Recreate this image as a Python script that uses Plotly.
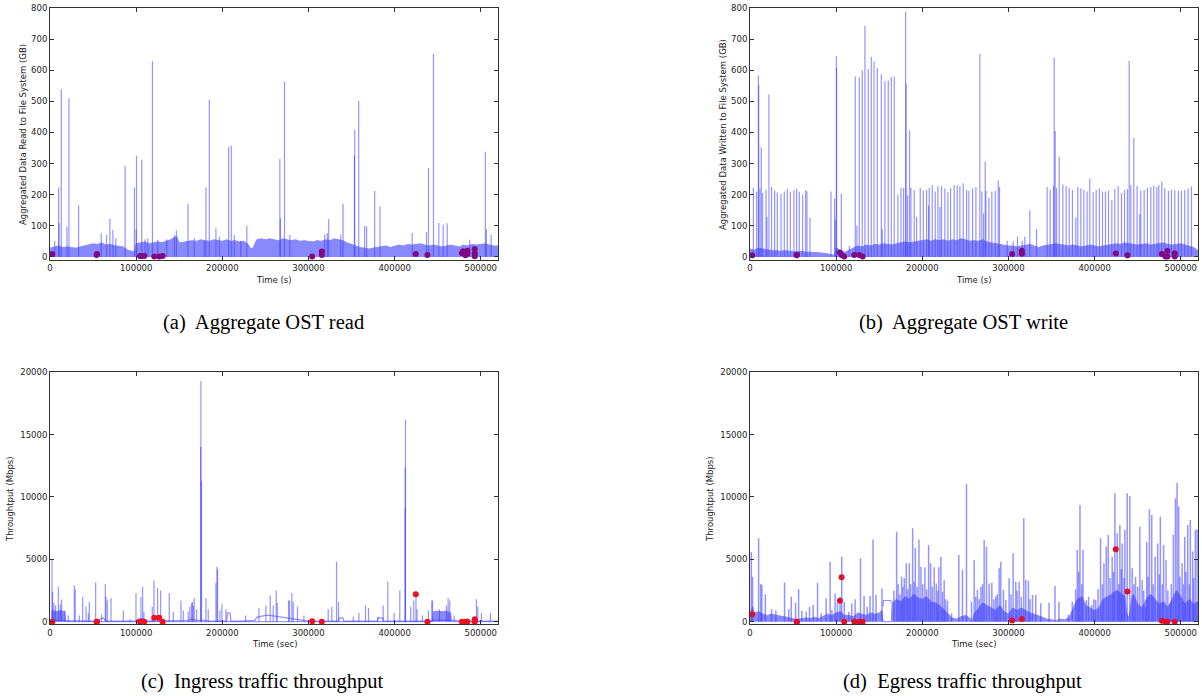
import plotly.graph_objects as go

# ---------------- data (times in kiloseconds, values in axis units) ----------------
X_TICKS = [0, 100000, 200000, 300000, 400000, 500000]
X_TICK_LABELS = ["0", "100000", "200000", "300000", "400000", "500000"]
GB_TICKS = [0, 100, 200, 300, 400, 500, 600, 700, 800]
MBPS_TICKS = [0, 5000, 10000, 15000, 20000]

# (a) aggregate OST read
A_BAND_T = [0, 5, 10, 15, 20, 25, 30, 35, 40, 45, 50, 55, 60, 65, 70, 75, 80, 85, 90, 95, 98, 100, 105, 110, 115,
            120, 125, 130, 135, 140, 144, 147, 150, 155, 160, 165, 170, 175, 180, 185, 190, 195, 200, 205, 210, 215,
            220, 225, 230, 233, 236, 240, 245, 250, 255, 260, 265, 270, 275, 280, 285, 290, 295, 300, 305, 310, 315,
            320, 325, 330, 335, 340, 345, 350, 355, 360, 365, 370, 375, 380, 385, 390, 395, 400, 405, 410, 415, 420,
            425, 430, 435, 440, 445, 450, 455, 460, 465, 470, 475, 480, 485, 490, 495, 500, 505, 510, 515, 520]
A_BAND_TOP = [28, 32, 35, 30, 32, 30, 28, 32, 35, 38, 42, 40, 45, 38, 40, 36, 35, 32, 22, 18, 15, 42, 45, 48, 42,
              45, 48, 46, 50, 55, 62, 65, 45, 48, 50, 52, 50, 55, 52, 50, 55, 52, 50, 55, 50, 52,
              48, 50, 40, 25, 30, 55, 58, 55, 58, 55, 52, 58, 55, 52, 55, 50, 52, 50, 48, 52, 50,
              55, 52, 58, 55, 52, 45, 40, 35, 30, 28, 25, 28, 30, 32, 35, 30, 35, 38, 35, 40, 38,
              40, 42, 38, 35, 38, 35, 32, 35, 38, 35, 32, 38, 35, 40, 38, 40, 42, 38, 35, 35]
A_SPIKE_T = [5.4, 10.0, 10.6, 13.1, 19.7, 22.0, 33.2, 59.4, 65.6, 69.5, 73.0, 76.4, 87.2, 98.0, 100.0, 100.4,
             106.5, 110.4, 113.5, 118.9, 125.0, 135.5, 144.4, 146.7, 160.2, 167.5, 179.0, 181.0, 184.9, 192.6,
             196.5, 207.3, 210.4, 213.8, 221.5, 228.5, 266.8, 267.4, 272.2, 278.4, 318.9, 322.0, 323.5, 337.5,
             340.1, 353.3, 353.7, 358.3, 365.2, 367.5, 376.8, 383.0, 420.4, 437.0, 439.3, 445.1, 451.3, 456.3,
             461.0, 487.2, 505.4, 506.5, 512.0]
A_SPIKE_V = [51, 223, 108, 539, 98, 509, 166, 76, 71, 122, 87, 60, 292, 223, 88, 325,
             312, 57, 60, 629, 55, 57, 70, 85, 170, 60, 52, 223, 505, 92,
             65, 353, 357, 70, 52, 99, 315, 124, 564, 70, 73, 76, 122, 70,
             170, 326, 409, 501, 100, 98, 212, 162, 77, 80, 286, 653, 109, 103,
             108, 55, 338, 90, 70]
A_DOT_T = [2.7, 54.1, 54.6, 104.4, 106.3, 109.4, 121.0, 126.8, 130.7, 304.3, 315.5, 315.5, 424.6, 438.1,
           478.0, 479.5, 482.2, 484.5, 484.5, 493.0, 493.0, 493.0]
A_DOT_V = [9, 6, 9, 3, 3, 3, 1, 1, 3, 1, 17, 6, 9, 6, 12, 18, 5, 20, 10, 25, 12, 2]

# (b) aggregate OST write
B_BAND_T = [0, 5, 10, 15, 20, 25, 30, 35, 40, 45, 50, 55, 60, 65, 70, 75, 80, 85, 90, 95, 98, 100, 105, 110, 115,
            120, 125, 130, 135, 140, 145, 150, 155, 160, 165, 170, 175, 180, 185, 190, 195, 200, 205, 210, 215,
            220, 225, 230, 235, 240, 245, 250, 255, 260, 265, 270, 275, 280, 285, 290, 295, 300, 305, 310, 315,
            320, 325, 330, 335, 340, 345, 350, 355, 360, 365, 370, 375, 380, 385, 390, 395, 400, 405, 410, 415,
            420, 425, 430, 435, 440, 445, 450, 455, 460, 465, 470, 475, 480, 485, 490, 495, 500, 505, 510, 515, 520]
B_BAND_TOP = [25, 22, 28, 25, 22, 20, 20, 18, 20, 18, 18, 16, 18, 15, 15, 14, 15, 12, 10, 8, 5, 30, 20, 15, 22,
              30, 35, 32, 38, 35, 40, 38, 42, 40, 38, 42, 45, 48, 45, 48, 50, 52, 55, 50, 55,
              52, 55, 50, 55, 52, 58, 55, 50, 52, 50, 55, 48, 45, 42, 40, 38, 35, 35, 32, 35,
              38, 40, 35, 30, 35, 38, 40, 42, 40, 38, 35, 38, 35, 32, 35, 38, 35, 32, 35, 38,
              40, 42, 40, 45, 42, 40, 38, 40, 42, 38, 40, 42, 45, 40, 38, 40, 42, 38, 35, 30, 20]
B_SPIKE_T = [3.9, 7.7, 9.7, 10.1, 11.6, 13.1, 14.7, 18.6, 19.7, 22.0, 25.1, 28.6, 31.7, 36.0, 39.8, 43.3, 46.8,
             51.0, 54.1, 57.2, 61.1, 64.6, 66.1, 69.6, 94.0, 98.2, 99.0, 100.2, 100.5, 106.0, 115.2, 122.2,
             124.1, 126.8, 130.3, 133.4, 137.3, 140.8, 143.9, 147.7, 152.4, 153.5, 156.6, 160.5, 164.0, 167.4,
             171.7, 175.2, 178.3, 180.6, 181.2, 182.9, 185.2, 186.8, 190.6, 193.4, 197.6, 201.1, 205.0, 207.3,
             208.0, 211.5, 215.0, 218.1, 220.4, 222.3, 226.2, 229.7, 232.8, 237.0, 240.5, 243.6, 247.5, 251.4,
             254.1, 258.3, 262.2, 266.8, 269.1, 271.1, 273.0, 273.8, 277.3, 280.7, 284.6, 288.1, 289.6, 298.5,
             305.5, 310.5, 315.9, 319.0, 324.8, 332.6, 344.9, 348.4, 352.3, 353.1, 354.2, 355.8, 358.9, 363.1,
             367.0, 370.5, 374.3, 378.2, 380.5, 384.0, 387.5, 391.3, 394.4, 398.3, 401.8, 405.6, 409.1, 412.6,
             416.1, 420.0, 423.4, 427.3, 431.2, 434.7, 438.1, 440.1, 442.0, 445.5, 449.3, 452.4, 453.6, 457.5,
             461.3, 465.2, 468.7, 472.2, 474.5, 478.0, 481.4, 485.7, 489.2, 493.0, 497.3, 500.8, 504.6, 508.5,
             512.4]
B_SPIKE_V = [222, 210, 583, 553, 220, 352, 205, 215, 128, 522, 225, 213, 207, 203, 210, 218, 209,
             214, 219, 209, 200, 215, 210, 127, 210, 188, 120, 645, 607, 204, 35, 580,
             100, 577, 600, 742, 604, 643, 628, 607, 587, 90, 565, 567, 578, 580,
             200, 222, 222, 788, 557, 198, 407, 222, 215, 128, 222, 213, 215, 165,
             222, 230, 210, 228, 160, 227, 220, 208, 221, 230, 230, 227, 237, 215,
             212, 220, 225, 652, 210, 140, 307, 212, 190, 210, 212, 246, 225, 52,
             50, 65, 52, 65, 150, 90, 225, 216, 228, 640, 405, 222, 322, 233,
             228, 222, 215, 127, 225, 220, 215, 210, 252, 208, 215, 220, 210, 210,
             213, 182, 218, 228, 205, 215, 218, 630, 230, 382, 228, 138, 213, 215,
             222, 225, 228, 225, 230, 242, 220, 212, 215, 213, 212, 213, 215, 220,
             226]
B_DOT_T = [2.7, 54.1, 54.6, 104.4, 106.3, 109.4, 121.0, 126.8, 130.7, 304.3, 315.5, 315.5, 424.6, 438.1,
           478.0, 482.2, 484.5, 484.5, 493.0, 493.0]
B_DOT_V = [5, 5, 7, 14, 6, 1, 6, 6, 1, 9, 20, 10, 11, 5, 9, 1, 19, 1, 12, 1]

# (c) ingress traffic throughput
C_BASE_T = [0, 20, 22, 50, 55, 60, 62, 65, 100, 102, 108, 110, 130, 140, 160, 165, 170, 180, 185, 205, 206, 209,
            210, 220, 230, 238, 240, 245, 250, 255, 260, 265, 270, 275, 280, 285, 290, 295, 300, 335, 336, 340,
            341, 380, 381, 386, 387, 440, 442, 470, 480, 520]
C_BASE_V = [100, 100, 50, 50, 150, 250, 300, 50, 50, 200, 250, 50, 50, 100, 100, 200, 100, 100, 50, 50, 700, 700,
            50, 50, 100, 100, 350, 450, 500, 500, 450, 400, 350, 300, 250, 200, 150, 100, 50, 50, 300, 300,
            50, 50, 300, 300, 50, 50, 100, 100, 50, 50]
C_BAND_T = [0, 2, 2.5, 5, 8, 12, 15, 17, 18, 444, 445, 450, 455, 460, 465, 466, 520]
C_BAND_TOP = [0, 0, 900, 850, 800, 900, 850, 800, 0, 0, 800, 850, 800, 850, 700, 0, 0]
C_SPIKE_T = [2.3, 3.0, 4.5, 6.5, 9.7, 12.0, 13.5, 17.4, 21.2, 28.2, 29.3, 34.0, 37.9, 41.8, 44.5, 45.6, 53.0,
             59.9, 64.2, 65.0, 66.5, 70.8, 85.1, 92.8, 99.8, 105.6, 107.5, 109.0, 118.7, 120.7, 124.9, 128.4,
             138.4, 143.1, 152.0, 154.7, 160.5, 162.4, 164.3, 165.4, 166.3, 167.4, 170.1, 174.8, 175.2, 175.9,
             181.0, 183.7, 192.6, 193.7, 194.5, 197.2, 199.5, 204.2, 227.0, 242.5, 250.6, 255.6, 259.1, 262.6,
             263.8, 276.9, 278.0, 280.7, 282.3, 287.3, 294.7, 322.9, 327.1, 332.6, 334.9, 351.9, 358.5, 366.2,
             369.7, 380.5, 386.7, 392.1, 399.5, 406.0, 412.2, 412.4, 412.6, 418.7, 422.2, 424.8, 426.0, 432.3,
             439.3, 443.2, 444.0, 452.0, 460.2, 462.1, 464.0, 469.1, 484.5, 491.0, 495.0, 496.5, 500.8, 511.2]
C_SPIKE_V = [5000, 2400, 1500, 1300, 2800, 1400, 1800, 900, 500, 2900, 2600, 500, 2000, 1200, 700, 1600, 3150,
             600, 3000, 2000, 1700, 1900, 900, 200, 2300, 2000, 2800, 800, 1200, 3300, 2700, 2500,
             2300, 800, 1700, 900, 800, 1200, 1500, 1600, 1300, 1900, 1000, 14000, 19300, 11300,
             1900, 1000, 3100, 4400, 4200, 900, 1400, 1000, 500, 1100, 1300, 2100, 1300, 2500,
             1500, 1700, 1700, 2300, 1600, 1200, 500, 1000, 1200, 4800, 1600, 400, 700, 1300,
             1100, 400, 1300, 3200, 700, 2500, 9100, 12300, 16200, 1200, 1700, 2000, 1000, 500,
             900, 1700, 1700, 1000, 1300, 1900, 1700, 500, 300, 300, 1800, 1200, 700, 700]
C_DOT_T = [2.7, 54.1, 54.6, 104.4, 106.3, 109.4, 121.0, 126.8, 130.7, 304.3, 315.5, 424.6, 438.1,
           478.0, 482.2, 484.5, 493.0, 493.0]
C_DOT_V = [0, 0, 0, 0, 0, 0, 320, 320, 0, 30, 0, 2190, 0, 0, 0, 0, 190, 0]

# (d) egress traffic throughput
D_BAND_T = [0, 3, 5, 10, 15, 20, 25, 30, 35, 40, 45, 50, 55, 60, 65, 70, 75, 80, 85, 90, 95, 100, 105, 110, 115,
            120, 125, 130, 135, 140, 145, 150, 153, 154.5, 164, 165, 170, 175, 180, 185, 190, 195, 200, 205, 210,
            215, 220, 225, 230, 235, 240, 245, 250, 255, 258, 260, 265, 270, 275, 280, 285, 290, 295, 300, 305,
            310, 315, 320, 325, 330, 335, 340, 345, 350, 355, 360, 365, 370, 375, 380, 385, 390, 395, 400, 405,
            410, 415, 420, 425, 430, 435, 437, 440, 443, 445, 450, 455, 460, 465, 470, 475, 480, 485, 490, 495,
            500, 505, 510, 515, 520]
D_BAND_TOP = [500, 1200, 700, 800, 600, 500, 600, 500, 450, 400, 300, 200, 150, 250, 300, 250, 350, 250, 400,
              600, 500, 700, 800, 500, 500,
              400, 700, 600, 500, 700, 600, 700, 900, 0, 0, 1500, 1800, 1600, 2000, 1800, 2200, 1900, 1800,
              2000, 1600,
              1500, 1300, 1000, 600, 300, 200, 400, 500, 300, 50, 600, 1100, 1500, 1300, 1100, 900, 1300, 800,
              600, 1100,
              900, 1100, 900, 700, 600, 450, 350, 200, 150, 80, 200, 150, 300, 1100, 1800, 2000, 1300, 1100,
              900, 1100,
              1800, 2000, 2200, 2500, 2300, 2000, 700, 300, 1800, 2200, 1400, 1100, 1800, 2200, 1800, 1400,
              1600, 1100, 1800, 2500,
              2000, 1400, 1800, 1400, 1600]
D_STEP_T = [154.5, 155, 163.5, 164]
D_STEP_V = [1200, 1700, 1700, 1500]
D_SPIKE_T = [1.5, 3.0, 10.0, 12.4, 13.8, 17.8, 25.0, 30.0, 40.1, 45.0, 47.9, 52.9, 56.4, 60.2, 65.2, 69.1, 73.3,
             78.4, 82.6, 88.4, 93.0, 95.0, 98.8, 101.5, 104.5, 106.5, 109.5, 114.5, 118.1, 122.0, 128.2, 132.4,
             136.0, 139.3, 142.8, 146.3, 153.2, 170.2, 176.0, 179.1, 181.4, 184.9, 188.8, 191.9, 196.1, 198.4,
             203.0, 207.3, 209.6, 213.8, 216.2, 219.2, 221.6, 225.4, 229.3, 234.0, 242.4, 246.6, 251.3, 257.1,
             260.2, 264.0, 268.0, 271.8, 274.5, 277.6, 280.7, 285.3, 289.2, 291.1, 294.2, 296.9, 300.8, 305.4,
             308.5, 312.4, 317.8, 320.1, 323.2, 327.9, 331.7, 337.5, 347.1, 354.0, 358.6, 369.4, 374.1, 379.9,
             383.0, 386.5, 390.4, 396.6, 401.2, 406.9, 410.8, 413.5, 415.8, 420.4, 423.5, 426.2, 429.3, 432.0,
             435.1, 437.8, 440.9, 443.6, 447.5, 452.5, 455.2, 459.1, 460.5, 463.6, 466.3, 470.2, 473.2, 476.3,
             480.1, 482.9, 487.5, 491.4, 493.8, 495.7, 497.6, 501.5, 504.6, 508.1, 511.1, 513.8, 516.9, 519.0]
D_SPIKE_V = [5560, 3600, 6690, 3020, 2940, 2190, 1000, 900, 3150, 1000, 2000, 1520, 2620, 880, 800, 1200, 1340,
             3130, 670, 1870, 4810, 940, 2270, 1500, 2000, 5200, 1600, 800, 1470, 1800, 5080, 2060,
             1200, 2060, 6600, 2140, 2670, 7220, 3610, 3480, 4680, 4680, 7490, 5880, 6600, 4410,
             4360, 6150, 4680, 4360, 3070, 4360, 5210, 3340, 1680, 670, 5350, 4140, 11040, 1600,
             4950, 2540, 2810, 6550, 6020, 3070, 3130, 2000, 4280, 4810, 2540, 1740, 3480, 5480,
             3210, 3210, 8290, 3340, 3290, 2140, 2140, 1470, 1520, 2860, 1600, 530, 1600, 5750,
             9360, 5750, 1740, 1340, 1740, 6690, 4680, 6020, 6950, 5210, 10300, 7090, 7750, 6280,
             7350, 10300, 10080, 4280, 3610, 7620, 3340, 1200, 6420, 9010, 8560, 5210, 6280, 8420,
             6150, 4950, 1470, 7000, 9890, 11150, 9230, 4680, 6820, 7750, 8160, 5620, 7350, 7400]
# secondary (medium-height) egress bursts
D_MINOR_T = [167.0, 172.0, 174.0, 177.5, 183.0, 186.5, 190.5, 194.0, 200.5, 205.0, 211.5, 218.0, 223.5, 227.0,
             262.0, 266.0, 270.0, 283.0, 287.0, 303.0, 310.0, 315.0, 325.0, 378.0, 381.5, 385.0, 393.0, 399.0,
             404.0, 409.0, 418.0, 422.0, 428.0, 431.0, 434.0, 445.5, 450.0, 457.0, 462.0, 468.0, 475.0, 478.5,
             485.0, 489.0, 499.0, 503.0, 506.0, 510.0, 515.0]
D_MINOR_V = [2500, 3000, 2200, 2800, 2600, 3000, 3200, 2800, 3000, 2600, 2800, 2500, 2400, 1800,
             2000, 1800, 3000, 1800, 2200, 2200, 2500, 2000, 1800, 2600, 4000, 3000, 2000, 1800,
             2600, 3000, 3500, 4000, 3000, 4200, 3500, 3000, 2800, 2500, 3600, 3000, 3800, 3000,
             2500, 3000, 3600, 3000, 4000, 3000, 3500]
D_DOT_T = [2.7, 54.1, 54.6, 104.4, 106.3, 109.4, 121.0, 126.8, 130.7, 304.3, 315.5, 424.6, 438.1,
           478.0, 482.2, 484.5, 493.0]
D_DOT_V = [590, 0, 0, 1680, 3560, 0, 0, 0, 0, 100, 210, 5800, 2430, 80, 0, 0, 0]

# ---------------- styling ----------------
BAND = "#8888ff"
SPIKE = "rgba(60,60,255,0.55)"
TICK_FONT = dict(family="DejaVu Sans", size=8.5, color="#222222")
W, H = 1202, 696


def ks(ts):
    return [t * 1000 for t in ts]


def spike_xy(ts, vs):
    xs, ys = [], []
    for t, v in zip(ks(ts), vs):
        xs += [t, t, None]
        ys += [0, v, None]
    return xs, ys


fig = go.Figure()

panels = [
    ("a", "x", "y", (A_BAND_T, A_BAND_TOP), (A_SPIKE_T, A_SPIKE_V), (A_DOT_T, A_DOT_V), "#800a80", 1.2),
    ("b", "x2", "y2", (B_BAND_T, B_BAND_TOP), (B_SPIKE_T, B_SPIKE_V), (B_DOT_T, B_DOT_V), "#800a80", 1.2),
    ("c", "x3", "y3", (C_BAND_T, C_BAND_TOP), (C_SPIKE_T, C_SPIKE_V), (C_DOT_T, C_DOT_V), "#f01020", 1.2),
    ("d", "x4", "y4", (D_BAND_T, D_BAND_TOP), (D_SPIKE_T + D_MINOR_T, D_SPIKE_V + D_MINOR_V),
     (D_DOT_T, D_DOT_V), "#e0102a", 1.5),
]

for name, xa, ya, band, spk, dots, dcol, sw in panels:
    fig.add_trace(go.Scatter(x=ks(band[0]), y=band[1], mode="lines", fill="tozeroy",
                             fillcolor=BAND, line=dict(color=BAND, width=1),
                             xaxis=xa, yaxis=ya, hoverinfo="skip"))
    if name == "c":
        fig.add_trace(go.Scatter(x=ks(C_BASE_T), y=C_BASE_V, mode="lines",
                                 line=dict(color=SPIKE, width=1.3), xaxis=xa, yaxis=ya))
    if name == "d":
        fig.add_trace(go.Scatter(x=ks(D_STEP_T), y=D_STEP_V, mode="lines",
                                 line=dict(color=SPIKE, width=1.2), xaxis=xa, yaxis=ya))
    sx, sy = spike_xy(*spk)
    fig.add_trace(go.Scatter(x=sx, y=sy, mode="lines", line=dict(color=SPIKE, width=sw),
                             xaxis=xa, yaxis=ya, connectgaps=False))
    fig.add_trace(go.Scatter(x=ks(dots[0]), y=dots[1], mode="markers",
                             marker=dict(color=dcol, size=6, line=dict(width=0)),
                             xaxis=xa, yaxis=ya))

LEFT = [50 / W, 498 / W]
RIGHT = [750 / W, 1198 / W]
TOP = [1 - 260 / H, 1 - 8 / H]
BOT = [1 - 624.3 / H, 1 - 372.3 / H]

axis_common = dict(showgrid=False, zeroline=False, showline=True, linecolor="#333333", linewidth=1,
                   mirror="ticks", ticks="inside", ticklen=4, tickcolor="#333333", tickfont=TICK_FONT,
                   automargin=False)

layout_axes = {}
for i, (dx, dy, yr, yt) in enumerate([(LEFT, TOP, [-10, 800], GB_TICKS),
                                       (RIGHT, TOP, [-10, 800], GB_TICKS),
                                       (LEFT, BOT, [-210, 20000], MBPS_TICKS),
                                       (RIGHT, BOT, [-210, 20000], MBPS_TICKS)]):
    sfx = "" if i == 0 else str(i + 1)
    layout_axes["xaxis" + sfx] = dict(domain=dx, range=[0, 520000], anchor="y" + sfx,
                                      tickvals=X_TICKS, ticktext=X_TICK_LABELS, **axis_common)
    layout_axes["yaxis" + sfx] = dict(domain=dy, range=yr, anchor="x" + sfx,
                                      tickvals=yt, ticktext=[str(v) for v in yt], **axis_common)

fig.update_layout(width=W, height=H, margin=dict(l=0, r=0, t=0, b=0, autoexpand=False),
                  paper_bgcolor="white", plot_bgcolor="white", showlegend=False, **layout_axes)

LABEL_FONT = dict(family="DejaVu Sans", size=8.5, color="#222222")
CAP_FONT = dict(family="Liberation Serif", size=20.5, color="#000000")


def ann(text, px, py, font, angle=0):
    fig.add_annotation(text=text, x=px / W, y=1 - py / H, xref="paper", yref="paper",
                       showarrow=False, font=font, textangle=angle,
                       xanchor="center", yanchor="middle")


ann("Time (s)", 274, 280, LABEL_FONT)
ann("Time (s)", 974, 280, LABEL_FONT)
ann("Time (sec)", 274, 644, LABEL_FONT)
ann("Time (sec)", 974, 644, LABEL_FONT)
ann("Aggregated Data Read to File System (GB)", 23, 135, LABEL_FONT, -90)
ann("Aggregated Data Written to File System (GB)", 723, 135, LABEL_FONT, -90)
ann("Throughtput (Mbps)", 10, 499, LABEL_FONT, -90)
ann("Throughtput (Mbps)", 710, 499, LABEL_FONT, -90)
ann("(a)  Aggregate OST read", 263, 322, CAP_FONT)
ann("(b)  Aggregate OST write", 963, 322, CAP_FONT)
ann("(c)  Ingress traffic throughput", 262, 681, CAP_FONT)
ann("(d)  Egress traffic throughput", 962, 681, CAP_FONT)

fig.write_html("out.html", config={"displayModeBar": False},
               post_script="document.body.style.margin='0';document.body.style.padding='0';"
                           "document.body.style.overflow='hidden';")
